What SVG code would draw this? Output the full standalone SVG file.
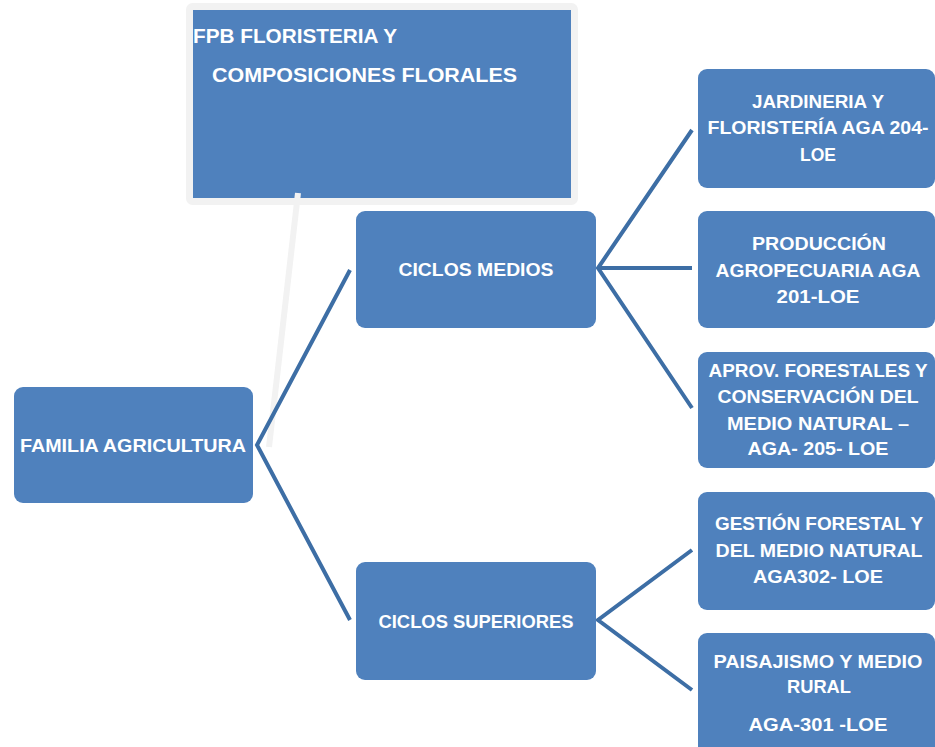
<svg xmlns="http://www.w3.org/2000/svg" width="935" height="747" viewBox="0 0 935 747">
<style>
.box{fill:#4F81BD;}
.t{fill:#FFFFFF;font-family:"Liberation Sans",Arial,sans-serif;font-weight:bold;font-size:19px;text-anchor:middle;}
.tl{fill:#FFFFFF;font-family:"Liberation Sans",Arial,sans-serif;font-weight:bold;font-size:21px;}
.c{stroke:#3D6EA5;stroke-width:4;fill:none;stroke-linecap:butt;}
</style>
<rect width="935" height="747" fill="#FFFFFF"/>
<g id="fpb">
<rect x="189.5" y="6.5" width="385" height="195" rx="3" fill="#4F81BD" stroke="#F2F2F2" stroke-width="7"/>
<text class="tl" x="193" y="43" textLength="204" lengthAdjust="spacingAndGlyphs">FPB FLORISTERIA Y</text>
<text class="tl" x="212" y="82" textLength="305" lengthAdjust="spacingAndGlyphs">COMPOSICIONES FLORALES</text>
</g>
<g id="connectors">
<line x1="298" y1="193" x2="269" y2="447" stroke="#F2F2F2" stroke-width="6"/>
<polyline class="c" points="350,270 257,445 350,620"/>
<polyline class="c" points="692,130 598,268 692,408"/>
<line class="c" x1="598" y1="268" x2="692" y2="268"/>
<polyline class="c" points="692,550 598,620 692,690"/>
</g>
<g id="familia">
<rect class="box" x="14" y="387" width="239" height="116" rx="9"/>
<text class="t" x="133" y="452" textLength="226" lengthAdjust="spacingAndGlyphs">FAMILIA AGRICULTURA</text>
</g>
<g id="ciclos-medios">
<rect class="box" x="356" y="211" width="240" height="117" rx="9"/>
<text class="t" x="476" y="276" textLength="155" lengthAdjust="spacingAndGlyphs">CICLOS MEDIOS</text>
</g>
<g id="ciclos-superiores">
<rect class="box" x="356" y="562" width="240" height="118" rx="9"/>
<text class="t" x="476" y="628" textLength="195" lengthAdjust="spacingAndGlyphs">CICLOS SUPERIORES</text>
</g>
<g id="jardineria">
<rect class="box" x="698" y="69" width="237" height="119" rx="9"/>
<text class="t" x="818" y="108" textLength="132" lengthAdjust="spacingAndGlyphs">JARDINERIA Y</text>
<text class="t" x="818" y="134" textLength="221" lengthAdjust="spacingAndGlyphs">FLORISTERÍA AGA 204-</text>
<text class="t" x="818" y="161" textLength="36" lengthAdjust="spacingAndGlyphs">LOE</text>
</g>
<g id="produccion">
<rect class="box" x="698" y="211" width="237" height="117" rx="9"/>
<text class="t" x="819" y="250" textLength="134" lengthAdjust="spacingAndGlyphs">PRODUCCIÓN</text>
<text class="t" x="818" y="277" textLength="205" lengthAdjust="spacingAndGlyphs">AGROPECUARIA AGA</text>
<text class="t" x="818" y="303" textLength="83" lengthAdjust="spacingAndGlyphs">201-LOE</text>
</g>
<g id="aprov">
<rect class="box" x="698" y="352" width="237" height="116" rx="9"/>
<text class="t" x="818" y="377" textLength="219" lengthAdjust="spacingAndGlyphs">APROV. FORESTALES Y</text>
<text class="t" x="818" y="403" textLength="201" lengthAdjust="spacingAndGlyphs">CONSERVACIÓN DEL</text>
<text class="t" x="818" y="430" textLength="182" lengthAdjust="spacingAndGlyphs">MEDIO NATURAL –</text>
<text class="t" x="818" y="455" textLength="141" lengthAdjust="spacingAndGlyphs">AGA- 205- LOE</text>
</g>
<g id="gestion">
<rect class="box" x="698" y="492" width="237" height="118" rx="9"/>
<text class="t" x="819" y="530" textLength="208" lengthAdjust="spacingAndGlyphs">GESTIÓN FORESTAL Y</text>
<text class="t" x="819" y="557" textLength="207" lengthAdjust="spacingAndGlyphs">DEL MEDIO NATURAL</text>
<text class="t" x="818" y="583" textLength="130" lengthAdjust="spacingAndGlyphs">AGA302- LOE</text>
</g>
<g id="paisajismo">
<rect class="box" x="698" y="633" width="237" height="125" rx="9"/>
<text class="t" x="818" y="668" textLength="209" lengthAdjust="spacingAndGlyphs">PAISAJISMO Y MEDIO</text>
<text class="t" x="819" y="693" textLength="64" lengthAdjust="spacingAndGlyphs">RURAL</text>
<text class="t" x="818" y="731" textLength="139" lengthAdjust="spacingAndGlyphs">AGA-301 -LOE</text>
</g>
</svg>
